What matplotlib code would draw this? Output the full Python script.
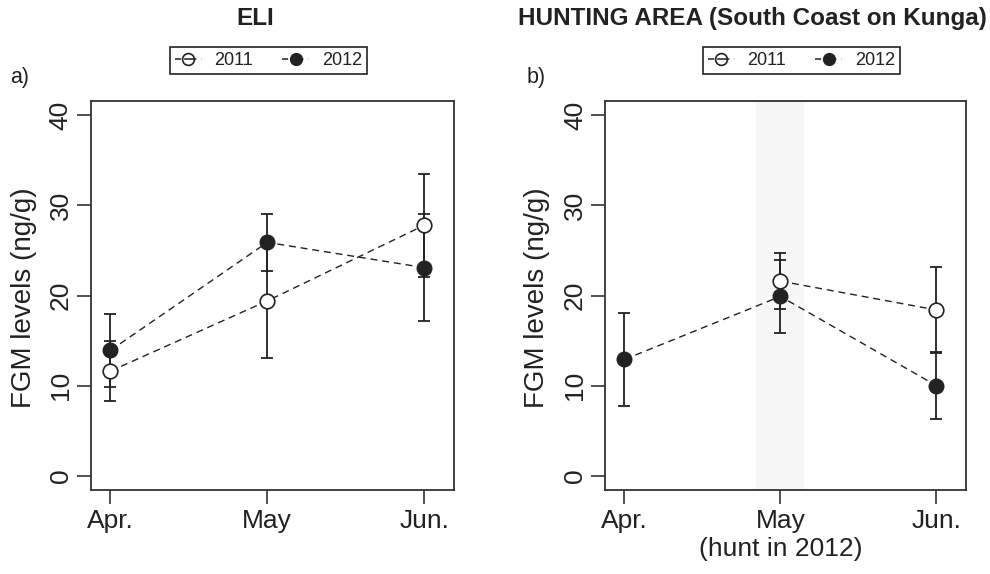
import numpy as np
import matplotlib
matplotlib.use("Agg")
import matplotlib.pyplot as plt
from matplotlib.lines import Line2D
from matplotlib import font_manager

names = {f.name for f in font_manager.fontManager.ttflist}
main_font = "Liberation Sans" if "Liberation Sans" in names else "DejaVu Sans"
narrow_font = "Liberation Sans Narrow" if "Liberation Sans Narrow" in names else main_font
plt.rcParams["font.family"] = [main_font, "DejaVu Sans"]

# data (means and error half-widths, ng/g)
months = ["Apr.", "May", "Jun."]
hunt_months = ["Apr.", "May\n(hunt in 2012)", "Jun."]
years = ["2011", "2012"]

eli_2011 = [11.6, 19.4, 27.8]
eli_2011_err = [3.3, 6.3, 5.7]
eli_2012 = [13.9, 25.9, 23.1]
eli_2012_err = [4.1, 3.2, 5.9]

hunt_2011 = [np.nan, 21.6, 18.4]
hunt_2011_err = [np.nan, 3.1, 4.8]
hunt_2012 = [12.9, 19.9, 10.0]
hunt_2012_err = [5.2, 4.1, 3.7]

hunt_span = (1.845, 2.15)

ink = "#222222"
x = np.arange(1, 4)

fig = plt.figure(figsize=(9.9, 5.74), dpi=100)
ax_a = fig.add_axes([0.0916, 0.1463, 0.367, 0.6777])
ax_b = fig.add_axes([0.6111, 0.1463, 0.3646, 0.6777])


def panel(ax, y11, e11, y12, e12, labels):
    ax.errorbar(x, y11, yerr=e11, fmt="none", ecolor=ink, elinewidth=1.3,
                capsize=4.4, capthick=1.3, zorder=2)
    ax.errorbar(x, y12, yerr=e12, fmt="none", ecolor=ink, elinewidth=1.3,
                capsize=4.4, capthick=1.3, zorder=2)
    ax.plot(x, y11, color=ink, lw=1.0, ls=(0, (5, 3.5)), marker="o",
            ms=10.5, mfc="white", mec=ink, mew=1.2, zorder=3)
    ax.plot(x, y12, color=ink, lw=1.0, ls=(0, (5, 3.5)), marker="o",
            ms=10.5, mfc=ink, mec=ink, zorder=4)
    ax.set_xlim(0.875, 3.19)
    ax.set_ylim(-1.6, 41.6)
    ax.set_yticks([0, 10, 20, 30, 40])
    ax.set_xticks(x)
    ax.set_xticklabels(labels)
    for s in ax.spines.values():
        s.set_color("#333333")
        s.set_linewidth(1.3)
    ax.tick_params(axis="both", length=10, width=1.2, color="#333333",
                   labelsize=19, labelcolor=ink)
    ax.tick_params(axis="y", pad=3)
    ax.tick_params(axis="x", pad=4)
    for t in ax.get_yticklabels():
        t.set_rotation(90)
        t.set_va("center")
    ax.set_ylabel("FGM levels (ng/g)", fontsize=20, color=ink)


panel(ax_a, eli_2011, eli_2011_err, eli_2012, eli_2012_err, months)
panel(ax_b, hunt_2011, hunt_2011_err, hunt_2012, hunt_2012_err, hunt_months)
ax_b.axvspan(*hunt_span, color="#f7f7f7", lw=0, zorder=0)

ax_a.yaxis.set_label_coords(-0.148, 0.494)
ax_b.yaxis.set_label_coords(-0.152, 0.494)

fig.text(255 / 990, 1 - 18.5 / 574, "ELI", fontsize=17.5, fontweight="bold",
         ha="center", va="center", color=ink)
fig.text(752 / 990, 1 - 18.5 / 574, "HUNTING AREA (South Coast on Kunga)",
         fontsize=17.5, fontweight="bold", ha="center", va="center", color=ink)
fig.text(10 / 990, 1 - 77.5 / 574, "a)", fontsize=15.5, ha="left", va="center", color=ink)
fig.text(527 / 990, 1 - 77.5 / 574, "b)", fontsize=15.5, ha="left", va="center", color=ink)

# legend key: dash, circle, dot (as in the R legend)
key_ls = (0, (4, 2, 8, 3.5, 1.5, 20))
handles = [
    Line2D([], [], color=ink, lw=1.1, ls=key_ls, marker="o", ms=8.5,
           mfc="none", mec=ink, mew=1.2),
    Line2D([], [], color=ink, lw=1.1, ls=key_ls, marker="o", ms=8.5,
           mfc=ink, mec=ink),
]
for ax, cx in [(ax_a, 268.5), (ax_b, 801.5)]:
    leg = ax.legend(handles, years, loc="center", ncol=2,
                    bbox_to_anchor=(cx / 990, 1 - 60.5 / 574),
                    bbox_transform=fig.transFigure, frameon=True, fancybox=False,
                    framealpha=1, edgecolor=ink, handlelength=1.5,
                    handletextpad=0.7, columnspacing=1.6, borderpad=0.25,
                    borderaxespad=0, prop={"family": narrow_font, "size": 13})
    leg.get_frame().set_linewidth(1.2)
    for t in leg.get_texts():
        t.set_color(ink)

fig.savefig("out.png", dpi=100)
